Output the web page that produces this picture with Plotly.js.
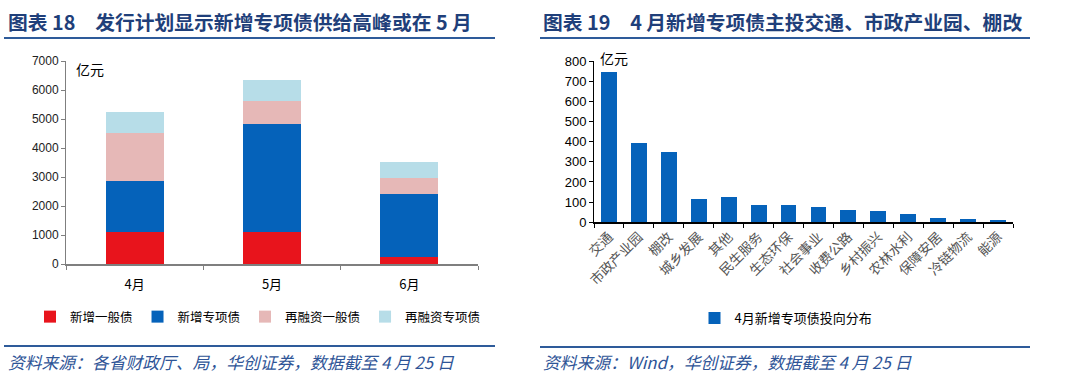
<!DOCTYPE html>
<html><head><meta charset="utf-8">
<script src="https://cdn.plot.ly/plotly-3.0.1.min.js"></script>
<style>html,body{margin:0;padding:0;background:#fff}#c{width:1080px;height:378px}</style>
</head><body><div id="c"></div>
<script>
// Chart 18 data
const months = ['4月', '5月', '6月'];
const newGeneral = [1115, 1115, 250];
const newSpecial = [1745, 3715, 2150];
const refiGeneral = [1645, 800, 575];
const refiSpecial = [745, 715, 545];
const seriesNames18 = ['新增一般债', '新增专项债', '再融资一般债', '再融资专项债'];
// Chart 19 data
const sectors = ['交通', '市政产业园', '棚改', '城乡发展', '其他', '民生服务', '生态环保', '社会事业', '收费公路', '乡村振兴', '农林水利', '保障安居', '冷链物流', '能源'];
const sectorValues = [744, 392, 349, 114, 124, 86, 86, 76, 61, 55, 41, 21, 16, 11];
const seriesName19 = '4月新增专项债投向分布';

const colors18 = ['#E8141C', '#0562BA', '#E6B8B7', '#B7DDE8'];
const cjk = '"Noto Sans CJK SC", "Noto Sans", sans-serif';
const navy = '#1F3F7A';

const vals18 = [newGeneral, newSpecial, refiGeneral, refiSpecial];
const traces = vals18.map((v, i) => ({
  type: 'bar', x: months, y: v, name: seriesNames18[i],
  marker: {color: colors18[i]}, width: 0.42,
  xaxis: 'x', yaxis: 'y', legend: 'legend', hoverinfo: 'y'
}));
traces.push({
  type: 'bar', x: sectors, y: sectorValues, name: seriesName19,
  marker: {color: '#0562BA'}, width: 0.53,
  xaxis: 'x2', yaxis: 'y2', legend: 'legend2', showlegend: true
});

const H = 378, W = 1080;
const py = p => 1 - p / H;
const px = p => p / W;

const layout = {
  width: W, height: H,
  margin: {l: 0, r: 0, t: 0, b: 0},
  paper_bgcolor: '#fff', plot_bgcolor: '#fff',
  barmode: 'stack',
  font: {family: cjk, color: '#000', size: 12},
  xaxis: {
    domain: [px(66), px(478)], anchor: 'y',
    showline: true, linecolor: '#7f7f7f', linewidth: 2,
    ticks: 'outside', tickson: 'boundaries', ticklen: 4, tickcolor: '#7f7f7f',
    ticklabelstandoff: 7,
    tickfont: {family: cjk, size: 13, color: '#000'}, showgrid: false, zeroline: false
  },
  yaxis: {
    domain: [py(264), py(61)], anchor: 'x', range: [0, 7000],
    dtick: 1000, showline: true, linecolor: '#7f7f7f', linewidth: 1,
    ticks: 'outside', ticklen: 4, tickcolor: '#7f7f7f',
    tickfont: {family: 'Arial, "Liberation Sans", sans-serif', size: 12, color: '#222'},
    showgrid: false, zeroline: false
  },
  xaxis2: {
    domain: [px(594), px(1013)], anchor: 'y2',
    showline: true, linecolor: '#000', linewidth: 1.5,
    ticks: 'outside', tickson: 'boundaries', ticklen: 4, tickcolor: '#000',
    tickangle: -45,
    tickfont: {family: cjk, size: 13.5, color: '#555'}, showgrid: false, zeroline: false
  },
  yaxis2: {
    domain: [py(222.3), py(61)], anchor: 'x2', range: [0, 800],
    dtick: 100, showline: true, linecolor: '#000', linewidth: 1,
    ticks: 'outside', ticklen: 4, tickcolor: '#000',
    tickfont: {family: 'Arial, "Liberation Sans", sans-serif', size: 13, color: '#000'},
    showgrid: false, zeroline: false
  },
  legend: {
    orientation: 'h', x: px(30), xanchor: 'left', y: py(317), yanchor: 'middle',
    font: {family: cjk, size: 12.5, color: '#000'}, itemwidth: 30, tracegroupgap: 0,
    bgcolor: 'rgba(0,0,0,0)', traceorder: 'normal'
  },
  legend2: {
    orientation: 'h', x: px(786), xanchor: 'center', y: py(318), yanchor: 'middle',
    font: {family: cjk, size: 13, color: '#000'}, itemwidth: 30,
    bgcolor: 'rgba(0,0,0,0)'
  },
  annotations: [
    {xref: 'paper', yref: 'paper', x: px(6), y: py(21), xanchor: 'left', yanchor: 'middle', showarrow: false,
     text: '<b>图表 18　发行计划显示新增专项债供给高峰或在 5 月</b>', font: {family: cjk, size: 19.8, color: navy}},
    {xref: 'paper', yref: 'paper', x: px(541), y: py(21), xanchor: 'left', yanchor: 'middle', showarrow: false,
     text: '<b>图表 19　4 月新增专项债主投交通、市政产业园、棚改</b>', font: {family: cjk, size: 19.8, color: navy}},
    {xref: 'paper', yref: 'paper', x: px(6), y: py(362), xanchor: 'left', yanchor: 'middle', showarrow: false,
     text: '<i>资料来源：各省财政厅、局，华创证券，数据截至 4 月 25 日</i>', font: {family: cjk, size: 16.8, color: '#2F5597'}},
    {xref: 'paper', yref: 'paper', x: px(541), y: py(362), xanchor: 'left', yanchor: 'middle', showarrow: false,
     text: '<i>资料来源：Wind，华创证券，数据截至 4 月 25 日</i>', font: {family: cjk, size: 16.8, color: '#2F5597'}},
    {xref: 'paper', yref: 'paper', x: px(74), y: py(69), xanchor: 'left', yanchor: 'middle', showarrow: false,
     text: '亿元', font: {family: cjk, size: 14, color: '#000'}},
    {xref: 'paper', yref: 'paper', x: px(598), y: py(58), xanchor: 'left', yanchor: 'middle', showarrow: false,
     text: '亿元', font: {family: cjk, size: 14, color: '#000'}}
  ],
  shapes: [
    {type: 'line', xref: 'paper', yref: 'paper', x0: px(4), x1: px(495), y0: py(38), y1: py(38), line: {color: '#2E5B9A', width: 2}},
    {type: 'line', xref: 'paper', yref: 'paper', x0: px(540), x1: px(1030), y0: py(38), y1: py(38), line: {color: '#2E5B9A', width: 2}},
    {type: 'line', xref: 'paper', yref: 'paper', x0: px(4), x1: px(495), y0: py(346), y1: py(346), line: {color: '#2E5B9A', width: 2}},
    {type: 'line', xref: 'paper', yref: 'paper', x0: px(540), x1: px(1030), y0: py(347), y1: py(347), line: {color: '#2E5B9A', width: 2}}
  ]
};

Plotly.newPlot('c', traces, layout, {displayModeBar: false, staticPlot: true});
</script>
</body></html>
